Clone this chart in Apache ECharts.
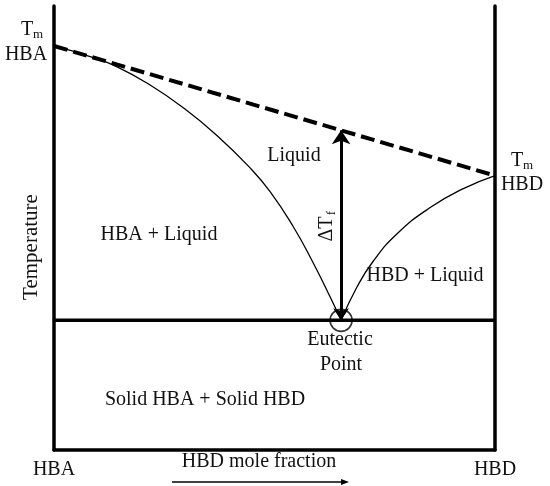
<!DOCTYPE html>
<html>
<head>
<meta charset="utf-8">
<style>
    html, body { margin: 0; padding: 0; background: #fff; }
    #chart { width: 550px; height: 486px; }
</style>
<script src="https://cdn.jsdelivr.net/npm/echarts@6/dist/echarts.min.js"></script>
</head>
<body>
<div id="chart"></div>
<script type="text/javascript">
// liquidus on the HBA side (x = HBD mole fraction, T in arbitrary units 0-100)
var hbaX = [0, 0.082, 0.143, 0.218, 0.293, 0.370, 0.444, 0.490, 0.542, 0.587, 0.626, 0.651];
var hbaT = [91.0, 88.6, 86.3, 82.2, 77.1, 70.8, 63.6, 58.2, 50.4, 42.3, 34.5, 29.2];
// liquidus on the HBD side
var hbdX = [0.651, 0.687, 0.723, 0.778, 0.853, 0.927, 1];
var hbdT = [29.2, 36.7, 42.4, 48.7, 54.6, 58.8, 61.8];
// melting points of the pure components
var tmHBA = 91.0;
var tmHBD = 61.8;
// eutectic point
var eutecticX = 0.651;
var eutecticT = 29.2;
var axisLabels = ['HBA', 'HBD'];

var FONT = 'Liberation Serif';
var INK = '#111';

function pairs(xs, ys) {
    return xs.map(function (x, i) { return [x, ys[i]]; });
}
// ideal line value above the eutectic composition
var idealAtEutectic = tmHBA + (tmHBD - tmHBA) * eutecticX;

var chart = echarts.init(document.getElementById('chart'));

function txt(x, y, s, size) {
    return {
        type: 'text', x: x, y: y, z: 10,
        style: { text: s, font: (size || 20) + 'px "' + FONT + '"', fill: INK, align: 'center', verticalAlign: 'middle' }
    };
}

var option = {
    animation: false,
    backgroundColor: '#fff',
    grid: { left: 54, right: 55, top: 6, bottom: 36, outerBoundsMode: 'none' },
    xAxis: {
        type: 'value', min: 0, max: 1, interval: 1,
        axisLine: { lineStyle: { color: '#000', width: 3.5 } },
        axisTick: { show: false },
        splitLine: { show: false },
        axisLabel: {
            margin: 10, fontSize: 20, fontFamily: FONT, color: INK,
            formatter: function (v) { return v === 0 ? axisLabels[0] : axisLabels[1]; }
        }
    },
    yAxis: [{
        type: 'value', min: 0, max: 100,
        axisLine: { show: true, lineStyle: { color: '#000', width: 3.5 } },
        axisTick: { show: false }, axisLabel: { show: false }, splitLine: { show: false }
    }, {
        type: 'value', min: 0, max: 100, position: 'right',
        axisLine: { show: true, lineStyle: { color: '#000', width: 3.5 } },
        axisTick: { show: false }, axisLabel: { show: false }, splitLine: { show: false }
    }],
    series: [{
        name: 'ideal', type: 'line', symbol: 'none',
        data: [[0, tmHBA], [1, tmHBD]],
        lineStyle: { color: '#000', width: 4, type: [14, 6] }
    }, {
        name: 'liquidus HBA', type: 'line', symbol: 'none', smooth: 0.5,
        data: pairs(hbaX, hbaT),
        lineStyle: { color: '#000', width: 1.3 }
    }, {
        name: 'liquidus HBD', type: 'line', symbol: 'none', smooth: 0.5,
        data: pairs(hbdX, hbdT),
        lineStyle: { color: '#000', width: 1.3 }
    }, {
        name: 'eutectic line', type: 'line', symbol: 'none',
        data: [[0, eutecticT], [1, eutecticT]],
        lineStyle: { color: '#000', width: 3.5 }
    }, {
        name: 'deltaT', type: 'lines', coordinateSystem: 'cartesian2d',
        symbol: ['arrow', 'arrow'], symbolSize: [12, 14],
        data: [{ coords: [[eutecticX, eutecticT], [eutecticX, idealAtEutectic]] }],
        lineStyle: { color: '#000', width: 3, opacity: 1 },
        z: 5
    }, {
        name: 'eutectic point', type: 'scatter',
        data: [[eutecticX, eutecticT]],
        symbol: 'circle', symbolSize: 22,
        itemStyle: { color: 'rgba(0,0,0,0)', borderColor: '#000', borderWidth: 1.6 },
        z: 6
    }],
    graphic: [
        txt(27, 30, 'T'), txt(38, 35, 'm', 13),
        txt(26, 55, 'HBA'),
        txt(517, 161, 'T'), txt(528, 166, 'm', 13),
        txt(522, 185, 'HBD'),
        txt(294, 156, 'Liquid'),
        txt(159, 235, 'HBA + Liquid'),
        txt(425, 276, 'HBD + Liquid'),
        txt(340, 340, 'Eutectic'),
        txt(341, 365, 'Point'),
        txt(205, 400, 'Solid HBA + Solid HBD'),
        txt(259, 462, 'HBD mole fraction'),
        {
            type: 'group', x: 31, y: 247, rotation: Math.PI / 2,
            children: [txt(0, 0, 'Temperature', 21)]
        },
        {
            type: 'group', x: 327, y: 226, rotation: Math.PI / 2,
            children: [txt(-3, 0, '\u0394T'), txt(13, 5, 'f', 13)]
        },
        {
            type: 'line', shape: { x1: 172, y1: 482, x2: 346, y2: 482 },
            style: { stroke: '#000', lineWidth: 1.3 }
        },
        {
            type: 'polygon', shape: { points: [[349, 482], [341, 479], [341, 485]] },
            style: { fill: '#000' }
        }
    ]
};
chart.setOption(option);
</script>
</body>
</html>
